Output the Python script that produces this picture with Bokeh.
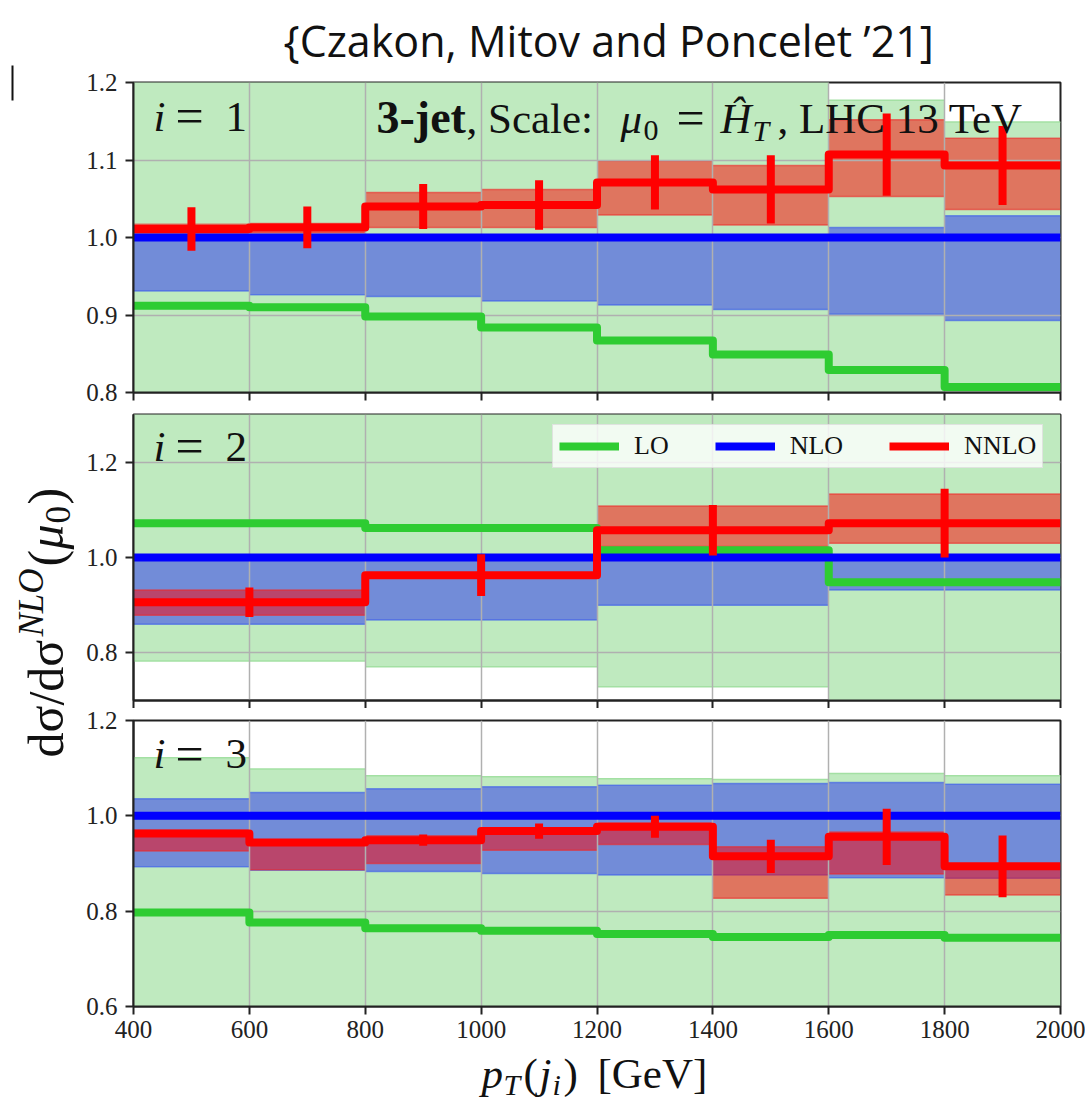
import math
from bokeh.plotting import figure
from bokeh.models import Label, Legend, LegendItem, FixedTicker, PrintfTickFormatter, Range1d
from bokeh.layouts import column, row
from bokeh.embed import file_html
from bokeh.resources import INLINE

# ---------------- data ----------------
edges8 = [400, 600, 800, 1000, 1200, 1400, 1600, 1800, 2000]
edges4 = [400, 800, 1200, 1600, 2000]
x_ticks = [400, 600, 800, 1000, 1200, 1400, 1600, 1800, 2000]
y_ticks_1 = [0.8, 0.9, 1.0, 1.1, 1.2]
y_ticks_2 = [0.8, 1.0, 1.2]
y_ticks_3 = [0.6, 0.8, 1.0, 1.2]

# panel i=1
p1_lo_c = [0.912, 0.910, 0.898, 0.884, 0.867, 0.849, 0.829, 0.807]
p1_lo_lo = [0.74, 0.74, 0.73, 0.72, 0.71, 0.70, 0.69, 0.67]
p1_lo_hi = [1.24, 1.24, 1.23, 1.23, 1.22, 1.21, 1.177, 1.149]
p1_nlo_c = [1.0, 1.0, 1.0, 1.0, 1.0, 1.0, 1.0, 1.0]
p1_nlo_lo = [0.931, 0.926, 0.924, 0.918, 0.913, 0.907, 0.901, 0.893]
p1_nlo_hi = [1.003, 1.003, 1.003, 1.003, 1.003, 1.003, 1.013, 1.028]
p1_nnlo_c = [1.011, 1.013, 1.040, 1.042, 1.071, 1.062, 1.107, 1.093]
p1_nnlo_lo = [1.004, 1.006, 1.013, 1.013, 1.029, 1.016, 1.053, 1.036]
p1_nnlo_hi = [1.017, 1.018, 1.058, 1.062, 1.099, 1.093, 1.152, 1.128]
p1_nnlo_err = [0.028, 0.027, 0.029, 0.032, 0.035, 0.044, 0.053, 0.051]

# panel i=2
p2_lo_c = [1.072, 1.062, 1.015, 0.948]
p2_lo_lo = [0.783, 0.771, 0.729, 0.66]
p2_lo_hi = [1.42, 1.40, 1.36, 1.33]
p2_nlo_c = [1.0, 1.0, 1.0, 1.0]
p2_nlo_lo = [0.860, 0.869, 0.900, 0.932]
p2_nlo_hi = [1.003, 1.003, 1.003, 1.003]
p2_nnlo_c = [0.906, 0.963, 1.057, 1.072]
p2_nnlo_lo = [0.879, 0.958, 1.023, 1.030]
p2_nnlo_hi = [0.932, 0.968, 1.108, 1.133]
p2_nnlo_err = [0.031, 0.044, 0.053, 0.072]

# panel i=3
p3_lo_c = [0.797, 0.776, 0.764, 0.759, 0.752, 0.746, 0.750, 0.744]
p3_lo_lo = [0.55, 0.55, 0.55, 0.55, 0.55, 0.55, 0.55, 0.55]
p3_lo_hi = [1.122, 1.098, 1.084, 1.082, 1.078, 1.076, 1.089, 1.084]
p3_nlo_c = [1.0, 1.0, 1.0, 1.0, 1.0, 1.0, 1.0, 1.0]
p3_nlo_lo = [0.893, 0.886, 0.883, 0.879, 0.876, 0.876, 0.870, 0.869]
p3_nlo_hi = [1.036, 1.049, 1.057, 1.061, 1.064, 1.068, 1.070, 1.066]
p3_nnlo_c = [0.963, 0.944, 0.949, 0.968, 0.977, 0.915, 0.956, 0.894]
p3_nnlo_lo = [0.926, 0.887, 0.900, 0.928, 0.940, 0.827, 0.878, 0.834]
p3_nnlo_hi = [0.970, 0.950, 0.958, 0.975, 0.985, 0.935, 0.966, 0.897]
p3_nnlo_err = [0.007, 0.005, 0.012, 0.016, 0.023, 0.035, 0.059, 0.065]

SERIF = "Liberation Serif"
SANS = "Open Sans"
K_FONT = {SERIF: 0.34, SANS: 0.39}   # anchor-to-baseline shift (fraction of font size)
LO_COLOR = "#2ecc32"
NLO_COLOR = "#0000ff"
NNLO_COLOR = "#ff0000"
INK = "#222222"

LEFT_W = 78          # width of the strip holding the y label
MAIN_W = 1007        # width of the main column
BL, BR = 55, 25      # left / right borders of the panels (frame = 927 px)
PX_PER_GEV = 927 / 1600.0


def gev(px):
    """page pixel column -> GeV on the shared x scale (frame starts at page x=133)"""
    return 400 + (px - 133) / PX_PER_GEV


def strip(width, height, xr, yr, left=0, right=0):
    s = figure(width=width, height=height, x_range=xr, y_range=yr,
               output_backend="svg", toolbar_location=None,
               x_axis_type=None, y_axis_type=None,
               min_border_left=left, min_border_right=right,
               min_border_top=0, min_border_bottom=0)
    s.outline_line_color = None
    s.background_fill_color = "white"
    s.border_fill_color = "white"
    return s


def make_panel(edges, lo, nlo, nnlo, err, yr, yticks, height, top, bottom, show_x):
    p = figure(width=MAIN_W, height=height, x_range=(400, 2000), y_range=yr,
               output_backend="svg", toolbar_location=None,
               min_border_left=BL, min_border_right=BR,
               min_border_top=top, min_border_bottom=bottom)
    p.background_fill_color = "white"
    p.border_fill_color = "white"
    p.outline_line_color = INK
    p.outline_line_width = 2
    p.xaxis.ticker = FixedTicker(ticks=x_ticks)
    p.yaxis.ticker = FixedTicker(ticks=yticks)
    p.yaxis.formatter = PrintfTickFormatter(format="%.1f")
    for ax in (p.xaxis, p.yaxis):
        ax.minor_tick_line_color = None
        ax.major_tick_out = 8
        ax.major_tick_in = 0
        ax.major_tick_line_width = 2
        ax.major_tick_line_color = INK
        ax.axis_line_width = 2
        ax.axis_line_color = INK
        ax.major_label_text_font = SERIF
        ax.major_label_text_font_size = "25px"
        ax.major_label_text_color = INK
    p.yaxis.major_label_standoff = 8
    p.xaxis.major_label_standoff = 6
    if not show_x:
        # ticks only: labels are not painted and take no room
        p.xaxis.major_label_text_color = None
        p.xaxis.major_label_standoff = -40
    p.grid.grid_line_color = "#b0b0b0"
    p.grid.grid_line_width = 1.5

    left = edges[:-1]
    right = edges[1:]
    centers = [(a + b) / 2 for a, b in zip(left, right)]

    def band(b_lo, b_hi, fill, alpha, edge, edge_alpha):
        p.quad(left=left, right=right, bottom=b_lo, top=b_hi, fill_color=fill,
               fill_alpha=alpha, line_color=None, level="image")
        for yy in (b_lo, b_hi):
            p.segment(x0=left, x1=right, y0=yy, y1=yy, line_color=edge,
                      line_alpha=edge_alpha, line_width=1.5, level="image")

    band(lo[1], lo[2], "#bfeabf", 1.0, "#a3e0a3", 1.0)
    band(nlo[1], nlo[2], NLO_COLOR, 0.4, "#3050f0", 0.55)
    band(nnlo[1], nnlo[2], NNLO_COLOR, 0.5, "#ee2a2a", 0.6)

    def step(vals, color):
        ys = list(vals) + [vals[-1]]
        return p.step(x=edges, y=ys, mode="after", line_color=color,
                      line_width=8, line_join="round")

    r_lo = step(lo[0], LO_COLOR)
    r_nlo = step(nlo[0], NLO_COLOR)
    r_nnlo = step(nnlo[0], NNLO_COLOR)
    p.segment(x0=centers, x1=centers,
              y0=[c - e for c, e in zip(nnlo[0], err)],
              y1=[c + e for c, e in zip(nnlo[0], err)],
              line_color=NNLO_COLOR, line_width=8)
    return p, (r_lo, r_nlo, r_nnlo)


def txt(p, x, base, text, upp, size=43, style="normal", font=SERIF):
    """horizontal text; base = wanted baseline (data units), upp = data units per
    pixel upward (negative when the y range is flipped)"""
    y = base + K_FONT[font] * size * upp
    p.add_layout(Label(x=x, y=y, text=text, text_font=font,
                       text_font_size="%dpx" % size, text_font_style=style,
                       text_color="#111111", text_baseline="alphabetic",
                       text_align="left"))


def vtxt(p, base_x, y, text, size=50, style="normal"):
    """text rotated 90 deg (reads bottom to top) in page-pixel strip"""
    x = base_x - K_FONT[SERIF] * size
    p.add_layout(Label(x=x, y=y, text=text, text_font=SERIF,
                       text_font_size="%dpx" % size, text_font_style=style,
                       text_color="#111111", text_baseline="alphabetic",
                       text_align="left", angle=math.pi / 2))


U1 = 0.4 / 310.0     # data units per pixel, panel 1
U23 = 0.6 / 286.0    # data units per pixel, panels 2 and 3


def panel_tag(p, base, upp, digit):
    txt(p, gev(153), base, "i", upp, style="italic")
    txt(p, gev(175), base - 2 * upp, "=", upp, size=50)
    txt(p, gev(225), base, digit, upp)


# ---------------- panels ----------------
# page rows: title 0-70, p1 70-410 (frame 82-392), p2 410-708 (frame 414-700),
# p3 708-1050 (frame 720-1006), x label 1050-1101
p1, _ = make_panel(edges8, (p1_lo_c, p1_lo_lo, p1_lo_hi), (p1_nlo_c, p1_nlo_lo, p1_nlo_hi),
                   (p1_nnlo_c, p1_nnlo_lo, p1_nnlo_hi), p1_nnlo_err,
                   (0.8, 1.2), y_ticks_1, 340, 12, 18, False)
p2, rs2 = make_panel(edges4, (p2_lo_c, p2_lo_lo, p2_lo_hi), (p2_nlo_c, p2_nlo_lo, p2_nlo_hi),
                     (p2_nnlo_c, p2_nnlo_lo, p2_nnlo_hi), p2_nnlo_err,
                     (0.7, 1.3), y_ticks_2, 298, 4, 8, False)
p3, _ = make_panel(edges8, (p3_lo_c, p3_lo_lo, p3_lo_hi), (p3_nlo_c, p3_nlo_lo, p3_nlo_hi),
                   (p3_nnlo_c, p3_nnlo_lo, p3_nnlo_hi), p3_nnlo_err,
                   (0.6, 1.2), y_ticks_3, 342, 12, 44, True)

# panel tags
panel_tag(p1, 1.1368, U1, "1")
panel_tag(p2, 1.2014, U23, "2")
panel_tag(p3, 1.0993, U23, "3")

# process annotation in panel 1
yb = 1.1342
ys = yb - 7 * U1
txt(p1, gev(376), yb, "3-jet", U1, size=46, style="bold")
txt(p1, gev(466), yb, ", Scale:", U1)
txt(p1, gev(620), yb, "\u03bc", U1, style="italic")
txt(p1, gev(643), ys, "0", U1, size=30)
txt(p1, gev(676), yb - 2 * U1, "=", U1, size=50)
txt(p1, gev(720), yb, "\u0124", U1, style="italic")
txt(p1, gev(752), ys, "T", U1, size=30, style="italic")
txt(p1, gev(777), yb, ", LHC 13 TeV", U1)

# legend in panel 2
legend = Legend(items=[LegendItem(label="LO", renderers=[rs2[0]]),
                       LegendItem(label="NLO", renderers=[rs2[1]]),
                       LegendItem(label="NNLO", renderers=[rs2[2]])],
                orientation="horizontal", location=(419, 232),
                glyph_width=60, glyph_height=20, label_standoff=15, spacing=46,
                padding=6, margin=0,
                label_text_font=SERIF, label_text_font_size="26px",
                label_text_color="#111111",
                background_fill_color="white", background_fill_alpha=0.8,
                border_line_color="#cccccc", border_line_width=1)
p2.add_layout(legend)

# ---------------- strips ----------------
# title strip: page rows 0..70 (y range flipped so values are page rows)
t_strip = strip(MAIN_W, 70, Range1d(400, 2000), Range1d(70, 0), left=BL, right=BR)
txt(t_strip, gev(283), 57, "{Czakon, Mitov and Poncelet \u201921]", -1, size=43, font=SANS)

# x label strip: page rows 1050..1101
b_strip = strip(MAIN_W, 51, Range1d(400, 2000), Range1d(1101, 1050), left=BL, right=BR)
xb = 1088
txt(b_strip, gev(481), xb, "p", -1, style="italic")
txt(b_strip, gev(503), xb + 6, "T", -1, size=30, style="italic")
txt(b_strip, gev(523), xb, "(", -1)
txt(b_strip, gev(539), xb, "j", -1, style="italic")
txt(b_strip, gev(552), xb + 6, "i", -1, size=30, style="italic")
txt(b_strip, gev(563), xb, ")", -1)
txt(b_strip, gev(597), xb, "[GeV]", -1)

# y label strip: page columns 0..78, page rows 0..1101
l_strip = strip(LEFT_W, 1101, Range1d(0, LEFT_W), Range1d(1101, 0))
vtxt(l_strip, 62, 757, "d\u03c3/d\u03c3", size=50)
vtxt(l_strip, 43, 636, "NLO", size=35, style="italic")
vtxt(l_strip, 62, 566, "(", size=50)
vtxt(l_strip, 62, 549, "\u03bc", size=50, style="italic")
vtxt(l_strip, 69, 523, "0", size=35)
vtxt(l_strip, 62, 504, ")", size=50)
# small vertical rule at the top-left corner of the original image
l_strip.line(x=[12, 12], y=[65, 100], line_color="#111111", line_width=2)

layout = row(l_strip, column(t_strip, p1, p2, p3, b_strip, spacing=0), spacing=0)
open("out.html", "w").write(file_html(layout, INLINE))
